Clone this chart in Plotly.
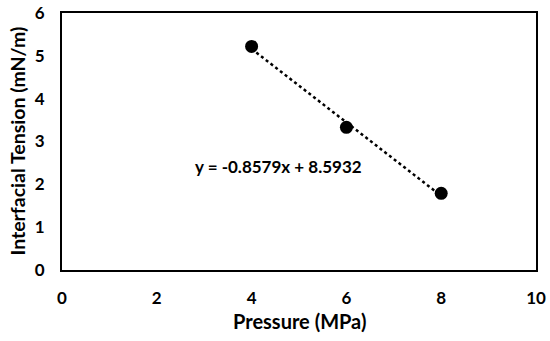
import numpy as np
import plotly.graph_objects as go

pressure = [4, 6, 8]
ift = [5.22, 3.33, 1.79]
x_ticks = [0, 2, 4, 6, 8, 10]
y_ticks = [0, 1, 2, 3, 4, 5, 6]
equation = "y = -0.8579x + 8.5932"
x_title = "Pressure (MPa)"
y_title = "Interfacial Tension (mN/m)"

slope, intercept = np.polyfit(pressure, ift, 1)
fit_x = [min(pressure), max(pressure)]
fit_y = [slope * v + intercept for v in fit_x]

font = "Lato"
fig = go.Figure()
fig.add_trace(go.Scatter(x=fit_x, y=fit_y, mode="lines",
                         line=dict(color="black", width=2.5, dash="dot"),
                         showlegend=False, hoverinfo="skip"))
fig.add_trace(go.Scatter(x=pressure, y=ift, mode="markers",
                         marker=dict(color="black", size=13),
                         showlegend=False))
fig.add_annotation(x=4.57, y=2.41, xref="x", yref="y", text=f"<b>{equation}</b>",
                   showarrow=False, font=dict(family=font, size=17, color="black"))
fig.add_annotation(x=0.5, y=0, xref="paper", yref="paper", yanchor="middle", yshift=-51,
                   text=f"<b>{x_title}</b>", showarrow=False,
                   font=dict(family=font, size=20, color="black"))
fig.add_annotation(x=0, y=0.5, xref="paper", yref="paper", xanchor="center", xshift=-45,
                   textangle=-90, text=f"<b>{y_title}</b>", showarrow=False,
                   font=dict(family=font, size=19.5, color="black"))

axis_common = dict(showgrid=False, zeroline=False, showline=True, mirror=True,
                   linecolor="black", linewidth=2, ticks="", automargin=False,
                   tickfont=dict(family=font, size=17, color="black"))
fig.update_xaxes(range=[0, 10], tickvals=x_ticks, ticktext=[f"<b>{t}</b>" for t in x_ticks],
                 ticklabelstandoff=12, **axis_common)
fig.update_yaxes(range=[0, 6], tickvals=y_ticks, ticktext=[f"<b>{t}</b>" for t in y_ticks],
                 ticklabelstandoff=12, **axis_common)
fig.update_layout(width=550, height=341, margin=dict(l=62, r=14, t=13, b=71),
                  plot_bgcolor="white", paper_bgcolor="white")
fig.write_html("out.html", config={"displayModeBar": False},
               post_script="document.body.style.margin='0';")
